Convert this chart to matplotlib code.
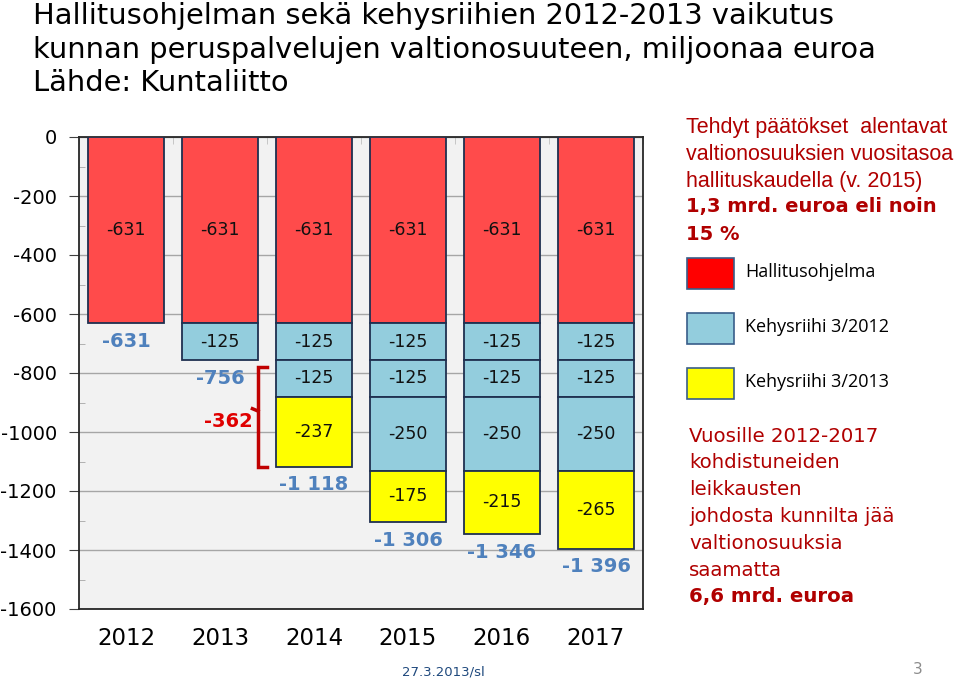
import numpy as np
import matplotlib.pyplot as plt
from matplotlib.patches import Rectangle
from matplotlib.ticker import MultipleLocator

plt.rcParams['font.family'] = 'DejaVu Sans'
plt.rcParams['axes.unicode_minus'] = False

years = ['2012', '2013', '2014', '2015', '2016', '2017']
hallitusohjelma = [-631, -631, -631, -631, -631, -631]
kehys2012_a = [0, -125, -125, -125, -125, -125]
kehys2012_b = [0, 0, -125, -125, -125, -125]
kehys2012_c = [0, 0, 0, -250, -250, -250]
kehys2013 = [0, 0, -237, -175, -215, -265]

series = [hallitusohjelma, kehys2012_a, kehys2012_b, kehys2012_c, kehys2013]
colors = ['#FF4B4B', '#93CDDD', '#93CDDD', '#93CDDD', '#FFFF00']

legend_labels = ['Hallitusohjelma', 'Kehysriihi 3/2012', 'Kehysriihi 3/2013']
legend_colors = ['#FF0000', '#93CDDD', '#FFFF00']

W, H = 960, 681
fig = plt.figure(figsize=(W / 100, H / 100), dpi=100)
ax = fig.add_axes([79 / W, 1 - 609 / H, (643 - 79) / W, (609 - 137) / H])
ax.set_facecolor('#F2F2F2')

x = np.arange(len(years))
bottom = np.zeros(len(years))
for vals, col in zip(series, colors):
    vals = np.array(vals, dtype=float)
    m = vals != 0
    ax.bar(x[m], vals[m], bottom=bottom[m], width=0.8, color=col,
           edgecolor='#1F3050', linewidth=1.3, zorder=3)
    for xi, v, b in zip(x[m], vals[m], bottom[m]):
        ax.text(xi, b + v / 2, f'{int(v)}', ha='center', va='center',
                fontsize=12.5, color='#111111', zorder=4)
    bottom = bottom + vals

# totals below each bar
for xi, tot in zip(x, bottom):
    lab = f'{int(tot):,}'.replace(',', ' ')
    ax.annotate(lab, (xi, tot), xytext=(0, -13), textcoords='offset points',
                ha='center', va='center', fontsize=14, fontweight='bold',
                color='#4F81BD', zorder=4)

# bracket: Kehysriihi 3/2013 effect on 2014 vs 2013 total
diff = int(bottom[2] - bottom[1])
top_b = bottom[1] - 24
bot_b = bottom[2]
mid_b = (top_b + bot_b) / 2
bx = 1.405
ax.plot([1.5, bx, bx, 1.5], [top_b, top_b, bot_b, bot_b], color='#C00000',
        lw=2.5, zorder=4, clip_on=False, solid_joinstyle='miter')
ax.plot([bx, bx - 0.06], [mid_b + 20, mid_b + 28], color='#C00000', lw=2.5, zorder=4)
ax.text(1.09, mid_b - 15, f'{diff}', ha='center', va='center', fontsize=14,
        fontweight='bold', color='#E00000', zorder=4)

ax.set_xlim(-0.5, len(years) - 0.5)
ax.set_ylim(-1600, 0)
ax.yaxis.set_major_locator(MultipleLocator(200))
ax.yaxis.set_minor_locator(MultipleLocator(100))
ax.grid(axis='y', which='major', color='#A6A6A6', lw=1, zorder=0)
ax.set_xticks(x)
ax.set_xticklabels(years, fontsize=16.5)
ax.set_xticks(np.arange(-0.5, len(years), 1), minor=True)
ax.tick_params(axis='x', which='major', length=0, pad=13)
ax.tick_params(axis='x', which='minor', bottom=False, top=True, direction='in',
               length=5, color='#BFBFBF')
ax.tick_params(axis='y', which='major', length=7, direction='out', labelsize=14,
               pad=9, color='#404040')
ax.tick_params(axis='y', which='minor', length=4, direction='in', color='#A6A6A6')
for s in ax.spines.values():
    s.set_color('#262626')
    s.set_linewidth(1.3)

# title
title_lines = ['Hallitusohjelman sekä kehysriihien 2012-2013 vaikutus',
               'kunnan peruspalvelujen valtionosuuteen, miljoonaa euroa',
               'Lähde: Kuntaliitto']
for i, t in enumerate(title_lines):
    fig.text(33 / W, 1 - (16 + 33.5 * i) / H, t, fontsize=20.8, va='center',
             ha='left', color='black')

# right-hand notes
dark_red = '#B00000'
note_lines = ['Tehdyt päätökset  alentavat', 'valtionosuuksien vuositasoa',
              'hallituskaudella (v. 2015)']
for i, t in enumerate(note_lines):
    fig.text(686 / W, 1 - (127 + 27 * i) / H, t, fontsize=15.5, va='center',
             family='Liberation Sans', color=dark_red)
for i, t in enumerate(['1,3 mrd. euroa eli noin', '15 %']):
    fig.text(686 / W, 1 - (207 + 27 * i) / H, t, fontsize=14, va='center',
             fontweight='bold', color=dark_red)

# legend boxes
for i, (lab, col) in enumerate(zip(legend_labels, legend_colors)):
    y0 = 258 + 55 * i
    fig.add_artist(Rectangle((687 / W, 1 - (y0 + 31) / H), 47 / W, 31 / H,
                             transform=fig.transFigure, facecolor=col,
                             edgecolor='#385D8A', lw=1.2))
    fig.text(745 / W, 1 - (y0 + 14) / H, lab, fontsize=13, va='center',
             family='Open Sans', color='black')

bottom_lines = ['Vuosille 2012-2017', 'kohdistuneiden', 'leikkausten',
                'johdosta kunnilta jää', 'valtionosuuksia', 'saamatta']
for i, t in enumerate(bottom_lines):
    fig.text(689 / W, 1 - (436 + 26.8 * i) / H, t, fontsize=14.2, va='center',
             color=dark_red)
fig.text(689 / W, 1 - (436 + 26.8 * 6) / H, '6,6 mrd. euroa', fontsize=14.2,
         va='center', fontweight='bold', color=dark_red)

fig.text(443 / W, 1 - 672 / H, '27.3.2013/sl', fontsize=9.5, ha='center',
         va='center', color='#1F497D')
fig.text(918 / W, 1 - 670 / H, '3', fontsize=11, ha='center', va='center',
         color='#8C8C8C')

fig.savefig('out.png', dpi=100)
